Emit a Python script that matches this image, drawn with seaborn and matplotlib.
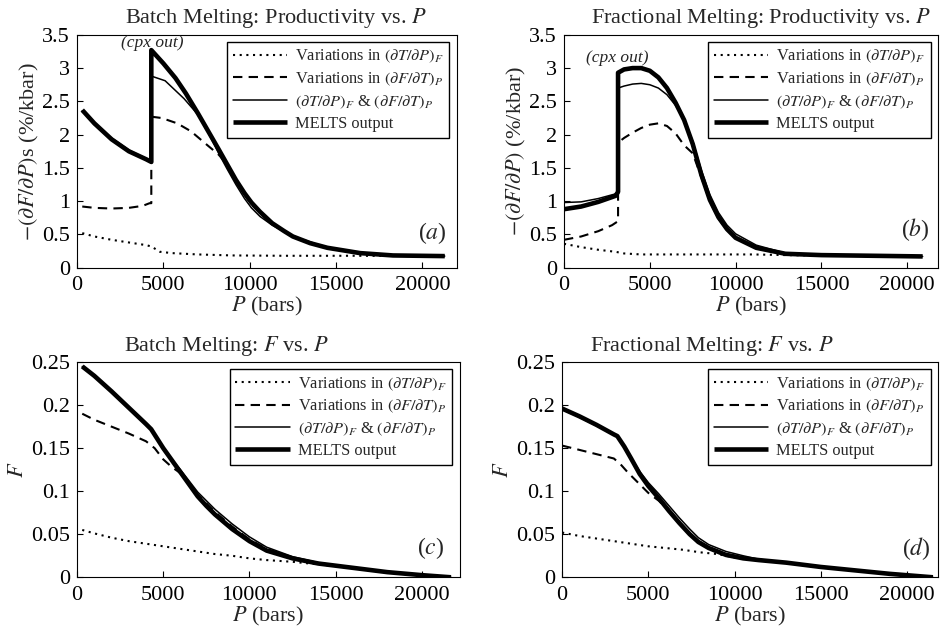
import matplotlib
matplotlib.use("Agg")
import matplotlib.pyplot as plt
import seaborn as sns
import numpy as np
from matplotlib.ticker import FuncFormatter, FixedLocator

# ---------------- data ----------------
# Panel (a): Batch melting productivity
a_P_dot = [300, 1000, 2000, 3000, 4000, 4300, 4800, 5500, 7000, 9000, 12000, 16000, 21300]
a_dot = [0.52, 0.47, 0.42, 0.38, 0.34, 0.32, 0.24, 0.22, 0.20, 0.185, 0.18, 0.18, 0.175]
a_P_dash = [300, 1000, 2000, 3000, 3800, 4200, 4300, 4300, 4900, 5800, 6600, 7600, 8200, 8600,
            9200, 10100, 11300, 12500, 14500, 16400, 18300, 21300]
a_dash = [0.92, 0.90, 0.89, 0.90, 0.93, 0.97, 0.97, 2.27, 2.25, 2.17, 2.05, 1.83, 1.70, 1.58,
          1.30, 0.95, 0.66, 0.47, 0.30, 0.22, 0.185, 0.175]
a_P_thin = [300, 1000, 2000, 3000, 4000, 4300, 4300, 5100, 6200, 7000, 7600, 8200, 8700, 9200,
            9700, 10100, 10600, 11300, 12000, 12500, 13500, 14500, 16400, 18300, 21300]
a_thin = [2.36, 2.15, 1.95, 1.77, 1.64, 1.60, 2.88, 2.81, 2.54, 2.30, 2.03, 1.72, 1.48, 1.25,
          1.04, 0.90, 0.77, 0.64, 0.54, 0.48, 0.38, 0.31, 0.23, 0.19, 0.175]
a_P_melts = [300, 1000, 2000, 3000, 4000, 4300, 4300, 5000, 5700, 6300, 7000, 7600, 8200, 8700,
             9200, 9700, 10100, 10600, 11300, 12000, 12500, 13500, 14500, 16400, 18300, 21300]
a_melts = [2.37, 2.17, 1.93, 1.75, 1.63, 1.59, 3.27, 3.07, 2.85, 2.62, 2.32, 2.05, 1.78, 1.55,
           1.32, 1.12, 0.98, 0.84, 0.67, 0.55, 0.47, 0.37, 0.30, 0.22, 0.185, 0.175]

# Panel (b): Fractional melting productivity
b_P_dot = [0, 1000, 2000, 3000, 3500, 4500, 6000, 8000, 10000, 11000, 13000, 16000, 20900]
b_dot = [0.36, 0.31, 0.27, 0.24, 0.215, 0.20, 0.20, 0.20, 0.20, 0.20, 0.19, 0.18, 0.17]
b_P_dash = [0, 1000, 2000, 2800, 3150, 3150, 3500, 4000, 4500, 5000, 5500, 6000, 6500, 7000, 7500,
            8000, 8500, 9000, 9500, 10000, 11200, 12900, 15000, 18000, 20900]
b_dash = [0.42, 0.47, 0.55, 0.64, 0.70, 1.88, 1.95, 2.03, 2.10, 2.15, 2.17, 2.13, 2.02, 1.84, 1.72,
          1.36, 1.00, 0.74, 0.57, 0.45, 0.30, 0.21, 0.19, 0.18, 0.17]
b_P_thin = [0, 1000, 2000, 3000, 3150, 3150, 3500, 4000, 4500, 5000, 5500, 6000, 6500, 7000, 7500,
            8000, 8500, 9000, 9500, 10000, 11200, 12900, 15000, 18000, 20900]
b_thin = [0.98, 0.99, 1.04, 1.11, 1.13, 2.70, 2.73, 2.76, 2.77, 2.75, 2.70, 2.60, 2.44, 2.22, 1.90,
          1.47, 1.10, 0.83, 0.64, 0.51, 0.34, 0.22, 0.19, 0.18, 0.17]
b_P_melts = [0, 1000, 2000, 3000, 3150, 3150, 3500, 4000, 4500, 5000, 5500, 6000, 6500, 7000, 7500,
             8000, 8500, 9000, 9500, 10000, 11200, 12900, 15000, 18000, 20900]
b_melts = [0.88, 0.92, 0.99, 1.08, 1.14, 2.93, 2.98, 3.00, 3.00, 2.96, 2.86, 2.70, 2.48, 2.22, 1.86,
           1.40, 1.02, 0.76, 0.58, 0.45, 0.30, 0.21, 0.19, 0.18, 0.17]

# Panel (c): Batch melting F
c_P_dot = [300, 1000, 2000, 3000, 4000, 5000, 6000, 7000, 8000, 9000, 10000, 11000, 12500, 14000,
           16000, 18000, 20000, 21700]
c_dot = [0.055, 0.051, 0.046, 0.042, 0.039, 0.036, 0.033, 0.030, 0.027, 0.025, 0.022, 0.020, 0.018,
         0.015, 0.011, 0.006, 0.0025, 0.0]
c_P_dash = [300, 1000, 2000, 3000, 4000, 4500, 5000, 5500, 6000, 7000, 8000, 9000, 10000, 11000,
            12500, 14000, 16000, 18000, 20000, 21700]
c_dash = [0.190, 0.183, 0.175, 0.167, 0.158, 0.150, 0.137, 0.128, 0.121, 0.096, 0.076, 0.059, 0.044,
          0.033, 0.023, 0.016, 0.011, 0.006, 0.0025, 0.0]
c_P_thin = [300, 1000, 2000, 3000, 4000, 4300, 5000, 5500, 6000, 6500, 7000, 7500, 8000, 9000,
            10000, 11000, 12500, 14000, 16000, 18000, 20000, 21700]
c_thin = [0.245, 0.234, 0.216, 0.197, 0.178, 0.172, 0.150, 0.137, 0.125, 0.112, 0.099, 0.089, 0.079,
          0.062, 0.047, 0.035, 0.024, 0.017, 0.011, 0.006, 0.0025, 0.0]
c_P_melts = [300, 1000, 2000, 3000, 4000, 4300, 5000, 5500, 6000, 6500, 7000, 7500, 8000, 9000,
             10000, 11000, 12500, 14000, 16000, 18000, 20000, 21700]
c_melts = [0.245, 0.234, 0.216, 0.197, 0.178, 0.172, 0.150, 0.136, 0.122, 0.108, 0.094, 0.083, 0.073,
           0.056, 0.042, 0.031, 0.022, 0.016, 0.011, 0.006, 0.0025, 0.0]

# Panel (d): Fractional melting F
d_P_dot = [0, 1000, 2000, 3000, 4000, 5000, 6000, 7000, 8000, 9000, 10000, 11400, 13000, 15000,
           17000, 19000, 21500]
d_dot = [0.052, 0.048, 0.045, 0.042, 0.039, 0.036, 0.034, 0.032, 0.029, 0.027, 0.023, 0.020, 0.017,
         0.012, 0.008, 0.004, 0.0]
d_P_dash = [0, 1000, 2000, 3000, 3400, 3800, 4500, 5000, 5600, 6200, 6800, 7400, 7900, 8500, 9500,
            10500, 11400, 13000, 15000, 17000, 19000, 21500]
d_dash = [0.153, 0.148, 0.143, 0.138, 0.131, 0.122, 0.108, 0.098, 0.089, 0.077, 0.064, 0.051, 0.042,
          0.035, 0.027, 0.023, 0.020, 0.017, 0.012, 0.008, 0.004, 0.0]
d_P_thin = [0, 1000, 2000, 3000, 3200, 3600, 4000, 4500, 5000, 5600, 6200, 6800, 7400, 7900, 8500,
            9500, 10500, 11400, 13000, 15000, 17000, 19000, 21500]
d_thin = [0.195, 0.186, 0.176, 0.166, 0.164, 0.152, 0.139, 0.123, 0.110, 0.097, 0.083, 0.069, 0.056,
          0.046, 0.038, 0.030, 0.025, 0.021, 0.017, 0.012, 0.008, 0.004, 0.0]
d_P_melts = [0, 1000, 2000, 3000, 3200, 3600, 4000, 4500, 5000, 5600, 6200, 6800, 7400, 7900, 8500,
             9500, 10500, 11400, 13000, 15000, 17000, 19000, 21500]
d_melts = [0.196, 0.187, 0.177, 0.166, 0.164, 0.152, 0.138, 0.120, 0.106, 0.092, 0.077, 0.063, 0.050,
           0.041, 0.034, 0.026, 0.022, 0.020, 0.017, 0.012, 0.008, 0.004, 0.0]

legend_labels = [r"Variations in $(\partial T/\partial P)_F$",
                 r"Variations in $(\partial F/\partial T)_P$",
                 r"$(\partial T/\partial P)_F$ & $(\partial F/\partial T)_P$",
                 "MELTS output"]
x_ticks = [0, 5000, 10000, 15000, 20000]
prod_ticks = [0, 0.5, 1, 1.5, 2, 2.5, 3, 3.5]
f_ticks = [0, 0.05, 0.1, 0.15, 0.2, 0.25]

titles = ["Batch Melting: Productivity vs. $P$", "Fractional Melting: Productivity vs. $P$",
          "Batch Melting: $F$ vs. $P$", "Fractional Melting: $F$ vs. $P$"]
ylabels = [r"$-(\partial F/\partial P)$s (%/kbar)", r"$-(\partial F/\partial P)$ (%/kbar)",
           r"$F$", r"$F$"]
panel_tags = ["a", "b", "c", "d"]

# ---------------- style ----------------
sns.set_theme(style="ticks")
plt.rcParams["font.family"] = ["Liberation Serif", "DejaVu Serif"]
plt.rcParams["mathtext.fontset"] = "stix"
plt.rcParams["axes.edgecolor"] = "black"
plt.rcParams["axes.linewidth"] = 0.8

fig = plt.figure(figsize=(9.4, 6.33), dpi=100)
rects = [[0.082, 0.577, 0.404, 0.368],
         [0.600, 0.577, 0.398, 0.368],
         [0.082, 0.088, 0.407, 0.340],
         [0.598, 0.088, 0.400, 0.340]]
axes = [fig.add_axes(r) for r in rects]

panels = [
    (a_P_dot, a_dot, a_P_dash, a_dash, a_P_thin, a_thin, a_P_melts, a_melts),
    (b_P_dot, b_dot, b_P_dash, b_dash, b_P_thin, b_thin, b_P_melts, b_melts),
    (c_P_dot, c_dot, c_P_dash, c_dash, c_P_thin, c_thin, c_P_melts, c_melts),
    (d_P_dot, d_dot, d_P_dash, d_dash, d_P_thin, d_thin, d_P_melts, d_melts),
]
xmax = [22000, 21800, 22200, 21800]
title_x = [0.524, 0.526, 0.39, 0.397]
tag_pos = [(0.974, 0.15), (0.978, 0.163), (0.96, 0.135), (0.98, 0.135)]

for i, ax in enumerate(axes):
    pdot, vdot, pdash, vdash, pthin, vthin, pm, vm = panels[i]
    sns.lineplot(x=pm, y=vm, ax=ax, estimator=None, sort=False, color="black",
                 linewidth=3.3, solid_capstyle="butt", label=legend_labels[3])
    sns.lineplot(x=pthin, y=vthin, ax=ax, estimator=None, sort=False, color="black",
                 linewidth=1.1, label=legend_labels[2])
    sns.lineplot(x=pdash, y=vdash, ax=ax, estimator=None, sort=False, color="black",
                 linewidth=1.5, linestyle=(0, (4.5, 3.0)), label=legend_labels[1])
    sns.lineplot(x=pdot, y=vdot, ax=ax, estimator=None, sort=False, color="black",
                 linewidth=1.5, linestyle=(0, (1.0, 2.2)), label=legend_labels[0])

    ax.set_xlim(0, xmax[i])
    if i < 2:
        ax.set_ylim(0, 3.5)
        ax.yaxis.set_major_locator(FixedLocator(prod_ticks))
    else:
        ax.set_ylim(0, 0.25)
        ax.yaxis.set_major_locator(FixedLocator(f_ticks))
    ax.xaxis.set_major_locator(FixedLocator(x_ticks))
    ax.yaxis.set_major_formatter(FuncFormatter(lambda v, p: "%g" % v))
    ax.xaxis.set_major_formatter(FuncFormatter(lambda v, p: "%d" % v))
    ax.tick_params(axis="both", direction="in", length=4, width=0.8, labelsize=16,
                   colors="black")
    ax.tick_params(axis="x", pad=6)
    ax.tick_params(axis="y", pad=5)
    for s in ax.spines.values():
        s.set_visible(True)
        s.set_color("black")
        s.set_linewidth(0.8)

    ax.set_xlabel(r"$P$ (bars)", fontsize=16, labelpad=0)
    ax.set_ylabel(ylabels[i], fontsize=16, labelpad=1 if i < 2 else 2)
    ax.text(title_x[i], 1.02, titles[i], transform=ax.transAxes, ha="center",
            va="bottom", fontsize=16)
    ax.text(tag_pos[i][0], tag_pos[i][1], "(" + r"$\mathit{%s}$" % panel_tags[i] + ")",
            transform=ax.transAxes, ha="right", va="center", fontsize=17)

    handles, labels = ax.get_legend_handles_labels()
    order = [labels.index(l) for l in legend_labels]
    leg = ax.legend([handles[k] for k in order], [labels[k] for k in order],
                    loc="upper right", fontsize=11.8, frameon=True, fancybox=False,
                    edgecolor="black", framealpha=1, handlelength=3.3,
                    handletextpad=0.5, borderaxespad=0.45, labelspacing=0.32,
                    borderpad=0.35)
    leg.get_frame().set_linewidth(1.0)

axes[0].text(4350, 3.38, "(cpx out)", fontsize=12.5, style="italic", ha="center", va="center")
axes[1].text(3130, 3.15, "(cpx out)", fontsize=12.5, style="italic", ha="center", va="center")

fig.savefig("out.png", dpi=100)
